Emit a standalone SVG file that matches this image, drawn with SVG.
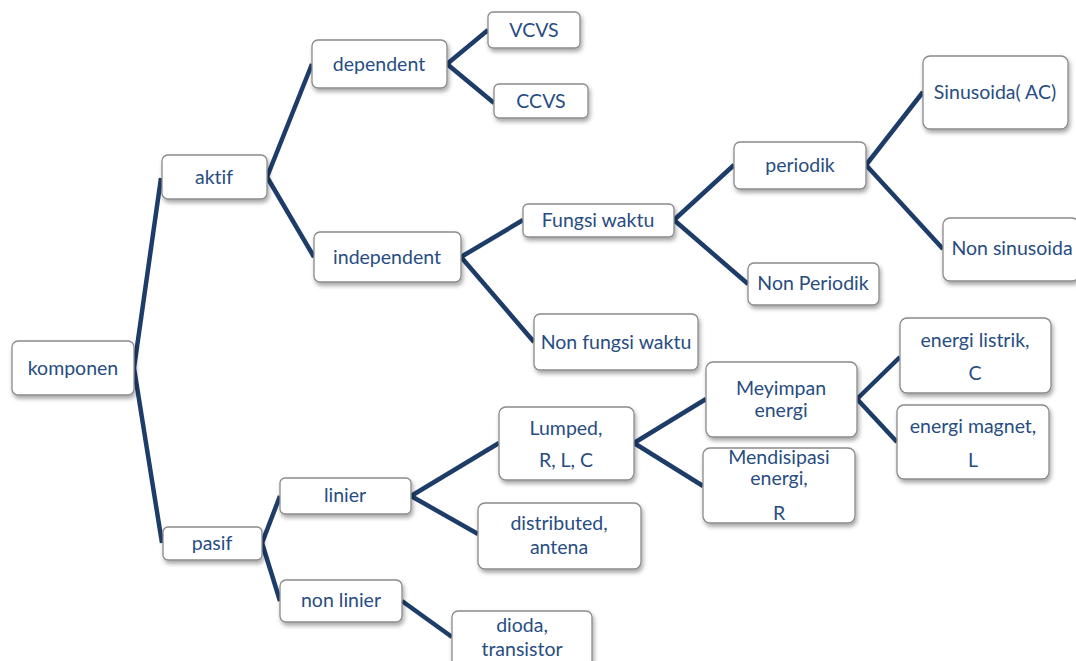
<svg xmlns="http://www.w3.org/2000/svg" width="1076" height="661" viewBox="0 0 1076 661">
<defs>
<filter id="sh" x="-10%" y="-10%" width="125%" height="140%">
<feDropShadow dx="1.5" dy="3" stdDeviation="2" flood-color="#000" flood-opacity="0.35"/>
</filter>
<style>
.b{fill:#fff;stroke:#8a8a8a;stroke-width:1.3;filter:url(#sh)}
.t{font-family:Lato,"Open Sans",sans-serif;font-size:19.5px;fill:#284d82;text-anchor:middle;font-variant-ligatures:none}
.c line{stroke:#1d3c68;stroke-width:4.5;stroke-linecap:butt}
</style>
</defs>
<rect width="1076" height="661" fill="#fff"/>
<g class="c" id="connectors">
<line x1="134" y1="368" x2="161" y2="178"/>
<line x1="134" y1="368" x2="162" y2="543"/>
<line x1="267" y1="177" x2="312" y2="64"/>
<line x1="267" y1="177" x2="314" y2="257"/>
<line x1="447" y1="64" x2="488" y2="30"/>
<line x1="447" y1="64" x2="494" y2="103"/>
<line x1="461" y1="257" x2="523" y2="220"/>
<line x1="461" y1="257" x2="534" y2="342"/>
<line x1="674" y1="220" x2="734" y2="165"/>
<line x1="674" y1="220" x2="748" y2="284"/>
<line x1="866" y1="165" x2="923" y2="92"/>
<line x1="866" y1="165" x2="943" y2="249"/>
<line x1="262" y1="543" x2="280" y2="496"/>
<line x1="262" y1="543" x2="280" y2="601"/>
<line x1="411" y1="496" x2="499" y2="443"/>
<line x1="411" y1="496" x2="478" y2="534"/>
<line x1="402" y1="601" x2="452" y2="637"/>
<line x1="634" y1="443" x2="706" y2="399"/>
<line x1="634" y1="443" x2="703" y2="486"/>
<line x1="857" y1="399" x2="900" y2="357"/>
<line x1="857" y1="399" x2="897" y2="442"/>
</g>
<g id="komponen"><rect class="b" x="12" y="341" width="122" height="54" rx="6"/><text class="t" x="73" y="375">komponen</text></g>
<g id="aktif"><rect class="b" x="162" y="155" width="105" height="44" rx="6"/><text class="t" x="214" y="184">aktif</text></g>
<g id="pasif"><rect class="b" x="163" y="527" width="99" height="33" rx="5"/><text class="t" x="212" y="550">pasif</text></g>
<g id="dependent"><rect class="b" x="312" y="40" width="135" height="48" rx="6"/><text class="t" x="379" y="71">dependent</text></g>
<g id="independent"><rect class="b" x="314" y="232" width="147" height="50" rx="6"/><text class="t" x="387" y="264">independent</text></g>
<g id="vcvs"><rect class="b" x="488" y="12" width="92" height="36" rx="5"/><text class="t" x="534" y="37">VCVS</text></g>
<g id="ccvs"><rect class="b" x="494" y="84" width="94" height="34" rx="5"/><text class="t" x="541" y="108">CCVS</text></g>
<g id="fungsi-waktu"><rect class="b" x="523" y="204" width="151" height="33" rx="5"/><text class="t" x="598" y="227">Fungsi waktu</text></g>
<g id="non-fungsi-waktu"><rect class="b" x="534" y="314" width="164" height="56" rx="6"/><text class="t" x="616" y="349">Non fungsi waktu</text></g>
<g id="periodik"><rect class="b" x="734" y="142" width="132" height="47" rx="6"/><text class="t" x="800" y="172">periodik</text></g>
<g id="non-periodik"><rect class="b" x="748" y="263" width="131" height="42" rx="6"/><text class="t" x="813" y="290">Non Periodik</text></g>
<g id="sinusoida"><rect class="b" x="923" y="56" width="145" height="73" rx="7"/><text class="t" x="995" y="99">Sinusoida( AC)</text></g>
<g id="non-sinusoida"><rect class="b" x="943" y="218" width="136" height="63" rx="7"/><text class="t" x="1012" y="255">Non sinusoida</text></g>
<g id="linier"><rect class="b" x="280" y="478" width="131" height="36" rx="5"/><text class="t" x="345" y="502">linier</text></g>
<g id="non-linier"><rect class="b" x="280" y="580" width="122" height="42" rx="6"/><text class="t" x="341" y="607">non linier</text></g>
<g id="lumped"><rect class="b" x="499" y="407" width="135" height="73" rx="7"/><text class="t" x="566" y="435">Lumped,</text><text class="t" x="566" y="467">R, L, C</text></g>
<g id="distributed"><rect class="b" x="478" y="503" width="163" height="66" rx="7"/><text class="t" x="559" y="530">distributed,</text><text class="t" x="559" y="554">antena</text></g>
<g id="dioda"><rect class="b" x="452" y="611" width="140" height="60" rx="6"/><text class="t" x="522" y="632">dioda,</text><text class="t" x="522" y="656">transistor</text></g>
<g id="meyimpan"><rect class="b" x="706" y="362" width="151" height="75" rx="7"/><text class="t" x="781" y="395">Meyimpan</text><text class="t" x="781" y="417">energi</text></g>
<g id="mendisipasi"><rect class="b" x="703" y="448" width="152" height="75" rx="7"/><text class="t" x="779" y="464">Mendisipasi</text><text class="t" x="779" y="485">energi,</text><text class="t" x="779" y="520">R</text></g>
<g id="energi-listrik"><rect class="b" x="900" y="318" width="151" height="75" rx="7"/><text class="t" x="975" y="347">energi listrik,</text><text class="t" x="975" y="380">C</text></g>
<g id="energi-magnet"><rect class="b" x="897" y="405" width="152" height="74" rx="7"/><text class="t" x="973" y="433">energi magnet,</text><text class="t" x="973" y="467">L</text></g>
</svg>
